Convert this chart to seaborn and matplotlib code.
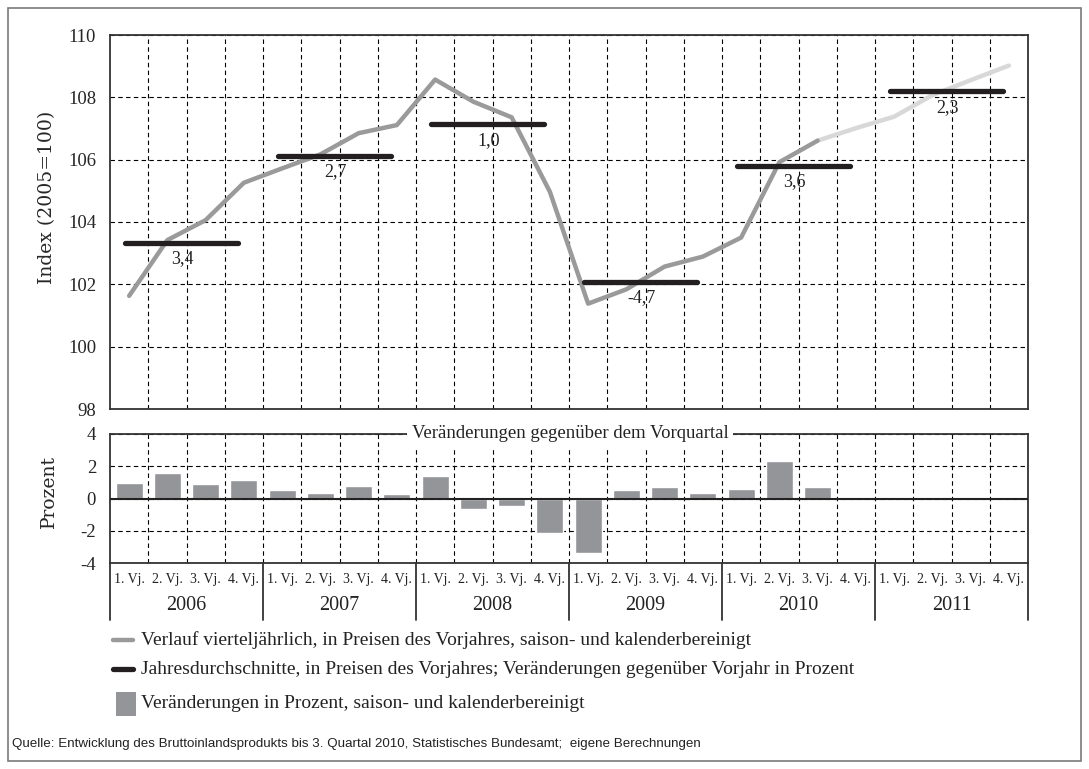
import numpy as np
import pandas as pd
import matplotlib
matplotlib.use("Agg")
import matplotlib.pyplot as plt
import matplotlib.transforms as mtransforms
from matplotlib.lines import Line2D
from matplotlib.patches import Rectangle
import seaborn as sns

# ---------------- data ----------------
years = ["2006", "2007", "2008", "2009", "2010", "2011"]
quarter_labels = ["1. Vj.", "2. Vj.", "3. Vj.", "4. Vj."]
index_values = [101.63, 103.42, 104.06, 105.26,
                105.72, 106.17, 106.85, 107.11,
                108.57, 107.86, 107.36, 104.97,
                101.38, 101.84, 102.57, 102.89,
                103.50, 105.92, 106.61, 107.01,
                107.38, 108.07, 108.55, 109.02]
forecast_start = 18  # index from which the series is a projection
annual_avg = [103.34, 106.12, 107.14, 102.08, 105.81, 108.20]
annual_change_labels = ["3,4", "2,7", "1,0", "-4,7", "3,6", "2,3"]
quarter_change = [0.95, 1.6, 0.9, 1.15,
                  0.5, 0.35, 0.75, 0.3,
                  1.4, -0.65, -0.45, -2.15,
                  -3.4, 0.5, 0.7, 0.35,
                  0.6, 2.3, 0.7]

# ---------------- style ----------------
sns.set_style("white")
plt.rcParams["font.family"] = ["Liberation Serif", "DejaVu Serif"]
plt.rcParams["axes.unicode_minus"] = False

W, H = 1089, 769
fig = plt.figure(figsize=(W / 100, H / 100), dpi=100)

def fx(x):
    return x / W

def fy(y):
    return 1 - y / H

L, R = 110, 1028
ax1 = fig.add_axes([fx(L), fy(409), (R - L) / W, (409 - 35) / H])
ax2 = fig.add_axes([fx(L), fy(563), (R - L) / W, (563 - 434) / H])

n = len(years) * len(quarter_labels)
qid = [f"{y}-{q}" for y in years for q in range(1, 5)]

LINE_GRAY = "#9a9a9a"
LIGHT_GRAY = "#d8d8d8"
BAR_GRAY = "#939598"
BLACK = "#231f20"
TXT = "#222222"
dash = (0, (4, 3))

# ---------------- top panel ----------------
df_line = pd.DataFrame({"pos": np.arange(n), "value": index_values})
sns.lineplot(data=df_line.iloc[forecast_start:], x="pos", y="value", ax=ax1,
             color=LIGHT_GRAY, linewidth=3.2, zorder=3)
sns.lineplot(data=df_line.iloc[:forecast_start + 1], x="pos", y="value", ax=ax1,
             color=LINE_GRAY, linewidth=3.2, zorder=3)

for k, (avg, lab) in enumerate(zip(annual_avg, annual_change_labels)):
    ax1.plot([4 * k - 0.1, 4 * k + 2.85], [avg, avg], color=BLACK, linewidth=3.8,
             solid_capstyle="round", zorder=4)
    ax1.annotate(lab, xy=(4 * k + 1.4, avg), xytext=(0, -16),
                 textcoords="offset pixels", ha="center", va="center",
                 fontsize=13, color=TXT, zorder=5)

ax1.set_xlim(-0.5, n - 0.5)
ax1.set_ylim(98, 110)
ax1.set_yticks(np.arange(98, 111, 2))
ax1.set_xticks(np.arange(0.5, n - 0.5, 1))
ax1.set_xticklabels([])
ax1.grid(True, color="black", linestyle=dash, linewidth=0.8)
ax1.tick_params(axis="both", length=0, labelsize=13.5, pad=10)
ax1.set_xlabel("")
ax1.set_ylabel("Index (2005=100)", fontsize=13.5, family=["DejaVu Serif"],
               va="center")
ax1.yaxis.set_label_coords((47 - L) / (R - L), (409 - 197) / (409 - 35))
for s in ax1.spines.values():
    s.set_color("#333333")
    s.set_linewidth(1.3)

# ---------------- bottom panel ----------------
df_bar = pd.DataFrame({"q": qid[:len(quarter_change)], "chg": quarter_change})
sns.barplot(data=df_bar, x="q", y="chg", order=qid, ax=ax2, color=BAR_GRAY,
            width=0.7, saturation=1, zorder=3)
ax2.set_xlim(-0.5, n - 0.5)
ax2.set_ylim(-4, 4)
ax2.set_yticks([-4, -2, 0, 2, 4])
ax2.set_xticks(np.arange(0.5, n - 0.5, 1))
ax2.set_xticklabels([])
ax2.grid(True, color="black", linestyle=dash, linewidth=0.8)
ax2.axhline(0, color=TXT, linewidth=1.5, zorder=4)
ax2.tick_params(axis="both", length=0, labelsize=13.5, pad=10)
ax2.set_xlabel("")
ax2.set_ylabel("Prozent", fontsize=13.5, family=["DejaVu Serif"], va="center")
ax2.yaxis.set_label_coords((49 - L) / (R - L), (563 - 492) / (563 - 434))
for s in ax2.spines.values():
    s.set_color("#333333")
    s.set_linewidth(1.3)

ax2.text(0.501, 1.0, "Veränderungen gegenüber dem Vorquartal",
         transform=ax2.transAxes, ha="center", va="center", fontsize=13.5,
         color=TXT, zorder=6,
         bbox=dict(boxstyle="square,pad=0.25", facecolor="white", edgecolor="none"))

trans = mtransforms.blended_transform_factory(ax2.transData, ax2.transAxes)
ph = 563 - 434
for i in range(n):
    ax2.text(i, -(580 - 563) / ph, quarter_labels[i % 4], transform=trans,
             ha="center", va="center", fontsize=10, color=TXT)
for k, y in enumerate(years):
    ax2.text(4 * k + 1.5, -(605 - 563) / ph, y, transform=trans,
             ha="center", va="center", fontsize=14.5, color=TXT)
for b in np.arange(-0.5, n, 4):
    ax2.plot([b, b], [0, -(620 - 563) / ph], transform=trans, color="#333333",
             linewidth=1.3, clip_on=False)

# ---------------- legend ----------------
fig.add_artist(Line2D([fx(113), fx(133)], [fy(640), fy(640)], color=LINE_GRAY,
                      linewidth=3.2, transform=fig.transFigure))
fig.text(fx(141), fy(640), "Verlauf vierteljährlich, in Preisen des Vorjahres, saison- und kalenderbereinigt",
         ha="left", va="center", fontsize=14, color=TXT)
fig.add_artist(Line2D([fx(113), fx(133)], [fy(669), fy(669)], color=BLACK,
                      linewidth=3.8, transform=fig.transFigure))
fig.text(fx(141), fy(669), "Jahresdurchschnitte, in Preisen des Vorjahres; Veränderungen gegenüber Vorjahr in Prozent",
         ha="left", va="center", fontsize=14, color=TXT)
fig.add_artist(Rectangle((fx(116), fy(716)), fx(136) - fx(116), fy(692) - fy(716),
                         facecolor=BAR_GRAY, edgecolor="none", transform=fig.transFigure))
fig.text(fx(141), fy(703), "Veränderungen in Prozent, saison- und kalenderbereinigt",
         ha="left", va="center", fontsize=14, color=TXT)

fig.text(fx(12), fy(744),
         "Quelle: Entwicklung des Bruttoinlandsprodukts bis 3. Quartal 2010, Statistisches Bundesamt;  eigene Berechnungen",
         ha="left", va="center", fontsize=9.6, color=TXT,
         family=["Liberation Sans", "DejaVu Sans"])

# outer frame
fig.add_artist(Rectangle((fx(8), fy(761)), fx(1081) - fx(8), fy(8) - fy(761),
                         facecolor="none", edgecolor="#7a7a7a", linewidth=1.2,
                         transform=fig.transFigure))

fig.savefig("out.png", dpi=100)
